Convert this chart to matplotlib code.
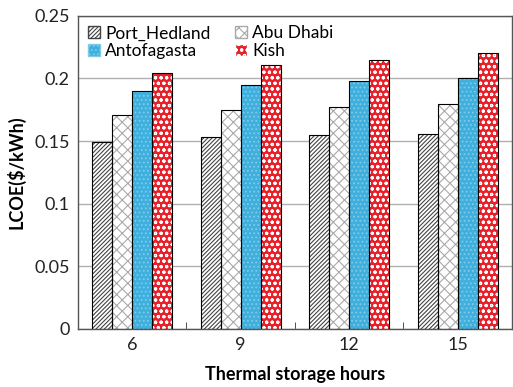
import matplotlib.pyplot as plt
import numpy as np
from matplotlib.patches import Patch

plt.rcParams['font.family'] = ['Lato', 'DejaVu Sans']
plt.rcParams['hatch.linewidth'] = 0.8

hours = ['6', '9', '12', '15']
port_hedland = [0.149, 0.153, 0.155, 0.156]
abu_dhabi = [0.171, 0.175, 0.177, 0.180]
antofagasta = [0.190, 0.195, 0.198, 0.200]
kish = [0.204, 0.211, 0.215, 0.220]

series = [
    ("Port_Hedland", port_hedland, 'white', '#444444', '////////'),
    ("Abu Dhabi", abu_dhabi, 'white', '#aaaaaa', 'xxx'),
    ("Antofagasta", antofagasta, '#3fb0dd', '#7fcbea', '....'),
    ("Kish", kish, '#e8202a', 'white', 'ooo'),
]

fig = plt.figure(figsize=(5.13, 3.87), dpi=100)
ax = fig.add_axes([0.152, 0.150, 0.846, 0.809])

x = np.arange(len(hours))
width = 0.185
handles = []
for i, (name, vals, fc, hc, hatch) in enumerate(series):
    pos = x + (i - 1.5) * width
    # fill + hatch first, then a plain black outline on top
    ax.bar(pos, vals, width, color=fc, edgecolor=hc, hatch=hatch, linewidth=0, zorder=2)
    ax.bar(pos, vals, width, fill=False, edgecolor='black', linewidth=0.8, zorder=3)
    handles.append(Patch(facecolor=fc, edgecolor=hc, hatch=hatch, label=name))

ax.set_ylim(0, 0.25)
ax.set_xlim(-0.5, 3.5)
ax.set_yticks([0, 0.05, 0.1, 0.15, 0.2, 0.25])
ax.set_yticklabels(['0', '0.05', '0.1', '0.15', '0.2', '0.25'])
ax.set_xticks(x)
ax.set_xticklabels(hours)
ax.tick_params(axis='both', length=0, labelsize=13, colors='#222222', pad=6)
ax.set_xticks([0.5, 1.5, 2.5], minor=True)
ax.tick_params(axis='x', which='minor', direction='in', length=5, color='#333333')
ax.grid(axis='y', color='#b0b0b0', linewidth=1.0, zorder=0)
ax.set_axisbelow(True)
for s in ax.spines.values():
    s.set_color('#555555')
    s.set_linewidth(1.0)

ax.set_xlabel("Thermal storage hours", fontsize=13, fontweight='bold', labelpad=9)
ax.set_ylabel("LCOE(\\$/kWh)", fontsize=13, fontweight='bold', labelpad=6)

# legend fills column-wise, so order entries to read row by row
order = [0, 2, 1, 3]
ax.legend(handles=[handles[k] for k in order], ncol=2, frameon=False, loc='upper left',
          bbox_to_anchor=(0.0, 1.0), fontsize=12.5, handlelength=0.7, handleheight=0.7,
          handletextpad=0.3, columnspacing=1.4, labelspacing=0.1, borderaxespad=0.15)

fig.savefig("out.png", dpi=100)
